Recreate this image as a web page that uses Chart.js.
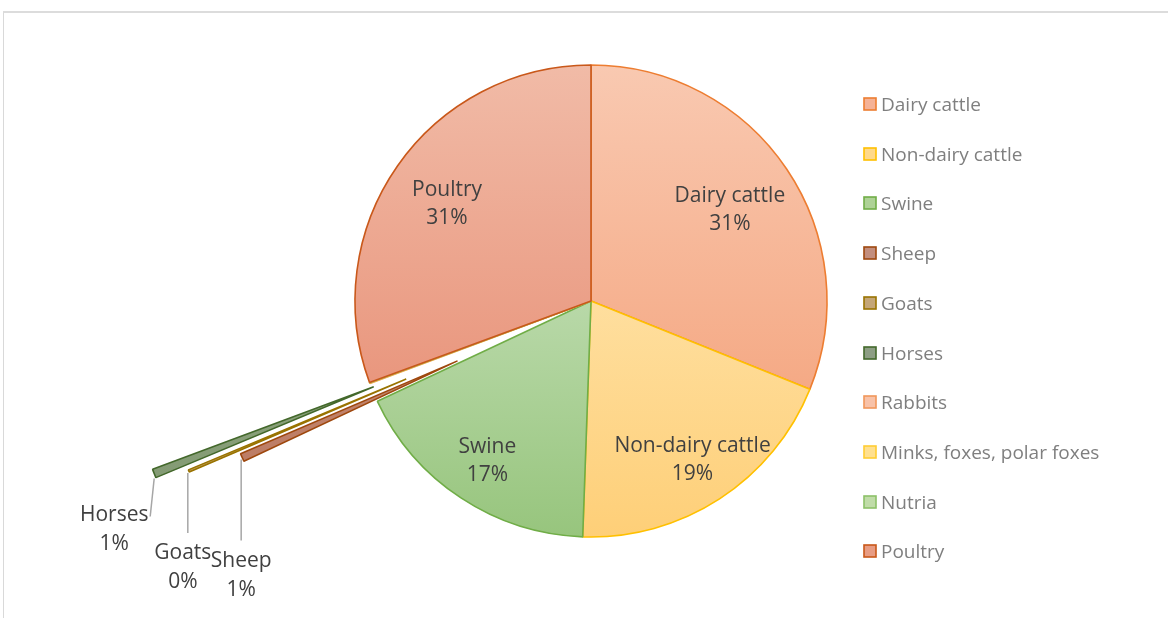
<!DOCTYPE html>
<html>
<head>
<meta charset="utf-8">
<title>Livestock categories</title>
<script src="https://cdn.jsdelivr.net/npm/chart.js@4/dist/chart.umd.min.js"></script>
<style>
  html, body { margin: 0; padding: 0; background: #ffffff; }
  #wrap { position: relative; width: 1168px; height: 618px; overflow: hidden; }
  #frame { position: absolute; left: 3px; top: 11px; width: 1200px; height: 700px;
           border-top: 2px solid #dcdcdc; border-left: 1px solid #d9d9d9; }
  #chart { position: absolute; left: 0; top: 0; }
</style>
</head>
<body>
<div id="wrap">
  <div id="frame"></div>
  <canvas id="chart" width="1168" height="618"></canvas>
</div>
<script>
// ---- data ----
const categories = [
  'Dairy cattle', 'Non-dairy cattle', 'Swine', 'Sheep', 'Goats', 'Horses',
  'Rabbits', 'Minks, foxes, polar foxes', 'Nutria', 'Poultry'
];
const shares = [31.1, 19.45, 17.45, 0.55, 0.15, 0.6, 0.03, 0.03, 0.02, 30.6];

// ---- styling ----
const fillTop    = ['#f9c9b1', '#ffeec4', '#daecd4', '#d29e8a', '#d6bb86', '#a0b593', '#f9cbb4', '#ffe6a6', '#d4e8c5', '#f1bba7'];
const fillBottom = ['#f39b71', '#fecf78', '#97c57d', '#b46f56', '#b4914a', '#778f66', '#f4ab88', '#ffd469', '#b3d59b', '#e5856a'];
const legendFill = ['#f5b296', '#ffd98a', '#aed296', '#c38e7d', '#c4a677', '#8d9e84', '#f8c2a8', '#ffe08f', '#c0dca8', '#e89c83'];
const borderCols = ['#ed7d31', '#ffc000', '#70ad47', '#9e480e', '#997300', '#43682b', '#f1975a', '#ffcd33', '#8cc168', '#c9581a'];

const RADIUS = 236;
// pulled-out distance of each slice, as a fraction of the radius
const explode = [0, 0, 0, 0.62, 0.85, 0.99, 0, 0, 0, 0];
// label distance from the centre (fraction of radius) for labels inside slices
const insideLabelRadius = [0.71, 0.79, 0.797, null, null, null, null, null, null, 0.744];
// labels for pulled-out slices: text block and leader line, relative to the slice tip
const outsideLabels = {
  3: { text: [-1, 104], from: [-1, 2], to: [-1, 83] },
  4: { text: [-6, 82],  from: [-1, 2], to: [-1, 62] },
  5: { text: [-40, 42], from: [0, 5],  to: [-4, 43] }
};

const total = shares.reduce((a, b) => a + b, 0);
const pctText = i => Math.round(shares[i] / total * 100) + '%';

function sliceGradient(context) {
  const chart = context.chart;
  const area = chart.chartArea;
  const i = context.dataIndex;
  if (!area) return fillTop[i];
  const cy = (area.top + area.bottom) / 2;
  const g = chart.ctx.createLinearGradient(0, cy - RADIUS, 0, cy + RADIUS);
  g.addColorStop(0, fillTop[i]);
  g.addColorStop(1, fillBottom[i]);
  return g;
}

function explodeVector(arc, i) {
  const mid = (arc.startAngle + arc.endAngle) / 2;
  const d = explode[i] * arc.outerRadius;
  return [Math.cos(mid) * d, Math.sin(mid) * d, mid];
}

// draws slices, moving pulled-out ones along their mid angle
const explodedSlices = {
  id: 'explodedSlices',
  beforeDatasetDraw(chart, args) {
    const ctx = chart.ctx;
    const arcs = args.meta.data;
    arcs.forEach((arc, i) => {
      const [dx, dy] = explodeVector(arc, i);
      ctx.save();
      ctx.translate(dx, dy);
      arc.draw(ctx);
      ctx.restore();
    });
    return false;
  }
};

// category names and percentages on the slices
const sliceLabels = {
  id: 'sliceLabels',
  afterDatasetsDraw(chart) {
    const ctx = chart.ctx;
    const arcs = chart.getDatasetMeta(0).data;
    ctx.save();
    ctx.font = '21px "Open Sans"';
    ctx.fillStyle = '#404040';
    ctx.textAlign = 'center';
    ctx.textBaseline = 'middle';
    const lineGap = 28;
    arcs.forEach((arc, i) => {
      const mid = (arc.startAngle + arc.endAngle) / 2;
      if (insideLabelRadius[i] !== null) {
        const r = insideLabelRadius[i] * arc.outerRadius;
        const x = arc.x + Math.cos(mid) * r;
        const y = arc.y + Math.sin(mid) * r + 3;
        ctx.fillText(categories[i], x, y - lineGap / 2);
        ctx.fillText(pctText(i), x, y + lineGap / 2);
      } else if (outsideLabels[i]) {
        const [dx, dy] = explodeVector(arc, i);
        const tipX = arc.x + dx + Math.cos(mid) * arc.outerRadius;
        const tipY = arc.y + dy + Math.sin(mid) * arc.outerRadius;
        const L = outsideLabels[i];
        ctx.strokeStyle = '#a6a6a6';
        ctx.lineWidth = 1.5;
        ctx.beginPath();
        ctx.moveTo(tipX + L.from[0], tipY + L.from[1]);
        ctx.lineTo(tipX + L.to[0], tipY + L.to[1]);
        ctx.stroke();
        const x = tipX + L.text[0];
        const y = tipY + L.text[1];
        ctx.fillText(categories[i], x, y);
        ctx.fillText(pctText(i), x, y + lineGap + 1);
      }
    });
    ctx.restore();
  }
};

// legend column at the right
const sideLegend = {
  id: 'sideLegend',
  afterDraw(chart) {
    const ctx = chart.ctx;
    const boxX = 864, box = 12, textX = 881, firstY = 104, step = 49.7;
    ctx.save();
    ctx.font = '19px "Open Sans"';
    ctx.textBaseline = 'middle';
    ctx.textAlign = 'left';
    categories.forEach((name, i) => {
      const y = Math.round(firstY + i * step);
      ctx.fillStyle = legendFill[i];
      ctx.fillRect(boxX, y - box / 2, box, box);
      ctx.strokeStyle = borderCols[i];
      ctx.lineWidth = 1.6;
      ctx.strokeRect(boxX, y - box / 2, box, box);
      ctx.fillStyle = '#7f7f7f';
      ctx.fillText(name, textX, y + 2);
    });
    ctx.restore();
  }
};

new Chart(document.getElementById('chart'), {
  type: 'pie',
  data: {
    labels: categories,
    datasets: [{
      data: shares,
      backgroundColor: sliceGradient,
      borderColor: borderCols,
      borderWidth: 1.6,
      hoverOffset: 0
    }]
  },
  options: {
    responsive: false,
    animation: false,
    events: [],
    radius: RADIUS,
    layout: { padding: { left: 91, right: 77, top: 11, bottom: 27 } },
    plugins: {
      legend: { display: false },
      tooltip: { enabled: false }
    }
  },
  plugins: [explodedSlices, sliceLabels, sideLegend]
});
</script>
</body>
</html>
